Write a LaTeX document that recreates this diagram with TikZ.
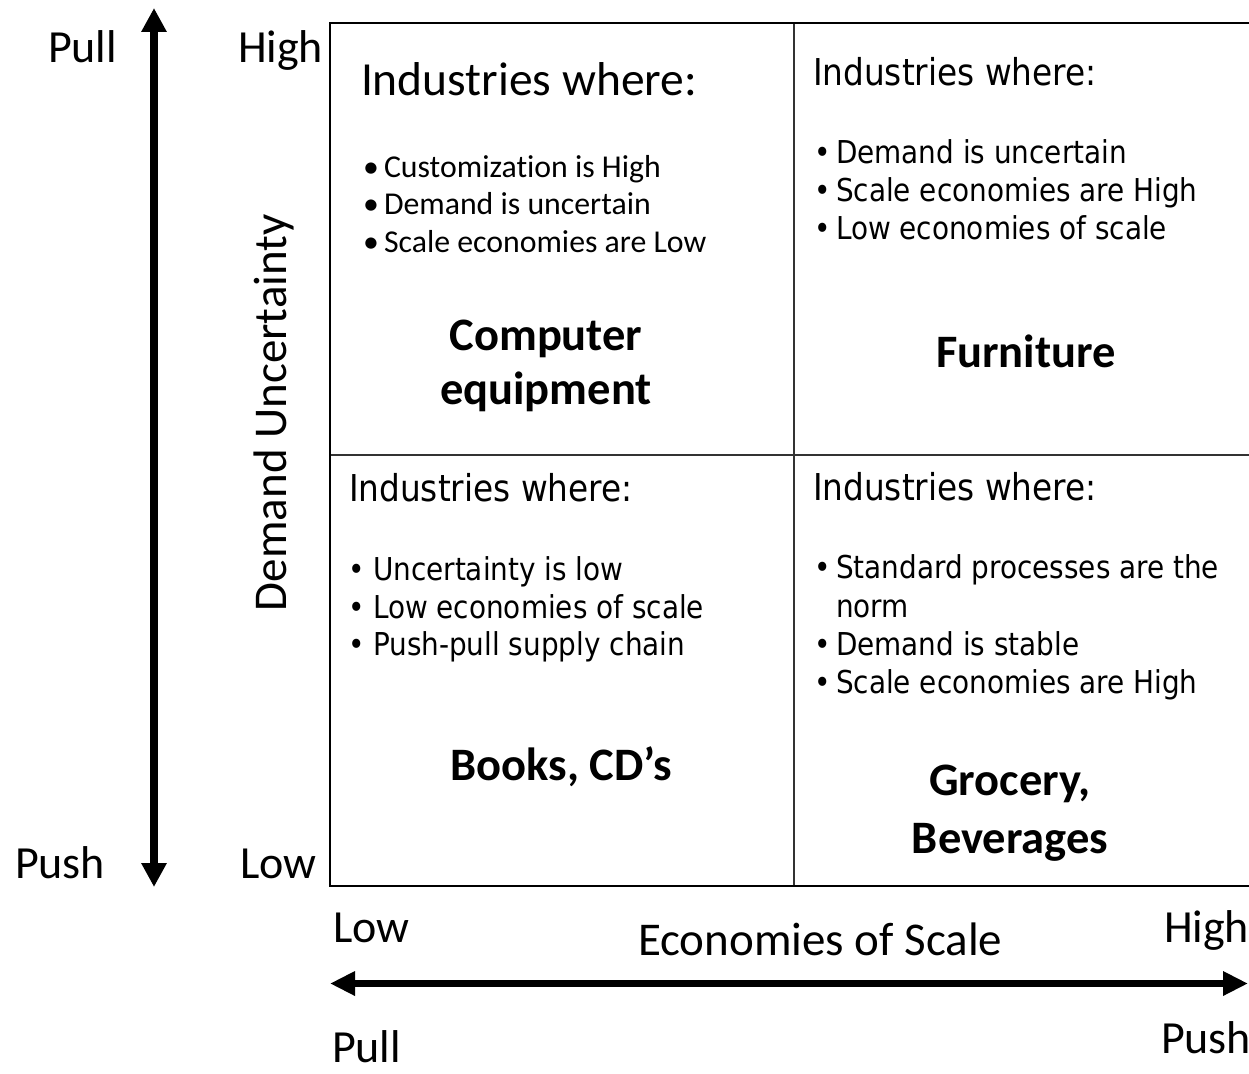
\documentclass[tikz,border=0pt]{standalone}
\usepackage{fontspec}
\setmainfont[Ligatures={NoCommon}]{Carlito}
\newfontfamily\tah[FakeStretch=0.885]{DejaVu Sans}
\usetikzlibrary{arrows.meta}
\begin{document}
\begin{tikzpicture}[x=1pt,y=-1pt,
  every node/.style={inner sep=0pt, outer sep=0pt},
  axlab/.style={font=\fontsize{46}{50}\selectfont, anchor=base west},
  axtitle/.style={font=\fontsize{47}{50}\selectfont, anchor=base west},
  hdcal/.style={font=\fontsize{47.5}{52}\selectfont, anchor=base west},
  bulcal/.style={font=\fontsize{31.8}{36}\selectfont, anchor=base west},
  dotcal/.style={font=\fontsize{31.8}{36}\selectfont, anchor=base},
  hdtah/.style={font=\tah\fontsize{37}{42}\selectfont, anchor=base west},
  bultah/.style={font=\tah\fontsize{31.5}{36}\selectfont, anchor=base west},
  dottah/.style={font=\tah\fontsize{31.5}{36}\selectfont, anchor=base},
  prod/.style={font=\bfseries\fontsize{46.5}{50}\selectfont, anchor=base},
  frameline/.style={line width=2.5pt, black},
  divline/.style={line width=2pt, black!80},
  bigarrow/.style={line width=8pt, {Triangle[width=24pt,length=24pt]}-{Triangle[width=24pt,length=24pt]}},
  harrow/.style={line width=7pt, {Triangle[width=23pt,length=25pt]}-{Triangle[width=23pt,length=25pt]}}
]
\path[use as bounding box] (0,0) rectangle (1249,1073);

% frame
\coordinate (tl) at (330,23);
\coordinate (tr) at (1250,23);
\coordinate (bl) at (330,886);
\coordinate (br) at (1250,886);
\coordinate (vt) at (794,23);
\coordinate (vb) at (794,886);
\coordinate (hl) at (330,455);
\coordinate (hr) at (1250,455);
\draw[divline] (vt) -- (vb);
\draw[divline] (hl) -- (hr);
\draw[frameline] (tr) -- (tl) -- (bl) -- (br);

% vertical axis
\coordinate (vtop) at (154,8);
\coordinate (vbot) at (154,887);
\draw[bigarrow] (vbot) -- (vtop);
\node[axlab] (pullL) at (48,63) {Pull};
\node[axlab] (pushL) at (15,878) {Push};
\node[axlab] (highL) at (238,63) {High};
\node[axlab] (lowL) at (240,878) {Low};
\node[axtitle, rotate=90] (du) at (286,611) {Demand Uncertainty};

% horizontal axis
\coordinate (hleft) at (330,983.5);
\coordinate (hright) at (1248,983.5);
\draw[harrow] (hleft) -- (hright);
\node[axlab] (lowB) at (333,942) {Low};
\node[axlab] (highB) at (1164,942) {High};
\node[axlab] (pullB) at (332,1062) {Pull};
\node[axlab] (pushB) at (1161,1053) {Push};
\node[axtitle] (es) at (638,955) {Economies of Scale};

% top-left quadrant
\node[hdcal] (h1) at (361,95) {Industries where:};
\node[dotcal] (d11) at (371,177) {•};
\node[bulcal] (t11) at (384,177) {Customization is High};
\node[dotcal] (d12) at (371,214) {•};
\node[bulcal] (t12) at (384,214) {Demand is uncertain};
\node[dotcal] (d13) at (371,252) {•};
\node[bulcal] (t13) at (384,252) {Scale economies are Low};
\node[prod] (p1a) at (546,350) {Computer};
\node[prod] (p1b) at (546,404) {equipment};

% top-right quadrant
\node[hdtah] (h2) at (813,85) {Industries where:};
\node[dottah] (d21) at (822.5,163) {•};
\node[bultah] (t21) at (836,163) {Demand is uncertain};
\node[dottah] (d22) at (822.5,201) {•};
\node[bultah] (t22) at (836,201) {Scale economies are High};
\node[dottah] (d23) at (822.5,239) {•};
\node[bultah] (t23) at (836,239) {Low economies of scale};
\node[prod] (p2) at (1026,367) {Furniture};

% bottom-left quadrant
\node[hdtah] (h3) at (349,501) {Industries where:};
\node[dottah] (d31) at (357,580) {•};
\node[bultah] (t31) at (373,580) {Uncertainty is low};
\node[dottah] (d32) at (357,618) {•};
\node[bultah] (t32) at (373,618) {Low economies of scale};
\node[dottah] (d33) at (357,655) {•};
\node[bultah] (t33) at (373,655) {Push-pull supply chain};
\node[prod] (p3) at (561,780) {Books, CD’s};

% bottom-right quadrant
\node[hdtah] (h4) at (813,500) {Industries where:};
\node[dottah] (d41) at (822.5,578) {•};
\node[bultah] (t41) at (836,578) {Standard processes are the};
\node[bultah] (t41b) at (836,617) {norm};
\node[dottah] (d42) at (822.5,655) {•};
\node[bultah] (t42) at (836,655) {Demand is stable};
\node[dottah] (d43) at (822.5,693) {•};
\node[bultah] (t43) at (836,693) {Scale economies are High};
\node[prod] (p4a) at (1010,795) {Grocery,};
\node[prod] (p4b) at (1010,853) {Beverages};
\end{tikzpicture}
\end{document}
